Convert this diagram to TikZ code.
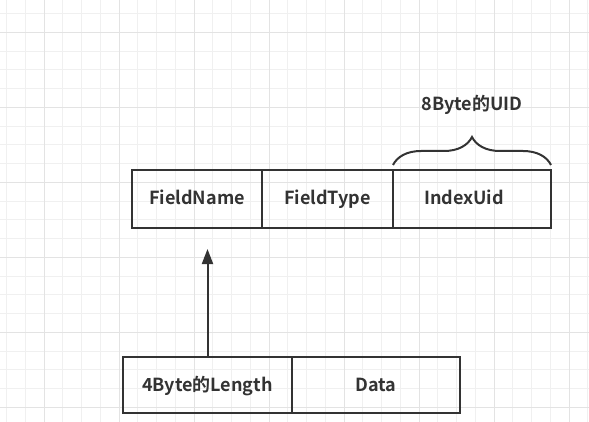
\documentclass[tikz,border=0pt]{standalone}
\usepackage{fontspec}
\setmainfont{Noto Sans CJK SC}[BoldFont={Noto Sans CJK SC Bold}]
\usepackage{tikz}
\usetikzlibrary{positioning, arrows.meta, decorations.pathreplacing}
\definecolor{inkgray}{HTML}{333333}
\tikzstyle{cell} = [rectangle, draw=inkgray, line width=2pt, minimum height=58pt, outer sep=0pt, inner sep=0pt, text height=15pt, text depth=3pt, text=inkgray, font=\fontsize{18}{21}\selectfont\bfseries]
\tikzstyle{caption} = [text=inkgray, font=\fontsize{18}{21}\selectfont\bfseries]
\tikzstyle{gridminor} = [line width=1pt, draw=black!6]
\tikzstyle{gridmajor} = [line width=1pt, draw=black!11]
\tikzstyle{bracket} = [draw=inkgray, line width=2pt, decorate, decoration={brace, amplitude=28pt}]
\tikzstyle{arrow} = [draw=inkgray, line width=2pt, -{Triangle[length=15pt, width=11pt]}]
\begin{document}
\begin{tikzpicture}[x=1pt, y=-1pt]

\useasboundingbox (0,0) rectangle (589,422);
\fill[white] (0,0) rectangle (589,422);

% background grid
\foreach \i in {0,...,31}
  \draw[gridminor] (6.7+18.75*\i,0) -- (6.7+18.75*\i,422);
\foreach \j in {0,...,21}
  \draw[gridminor] (0,13.6+18.75*\j) -- (589,13.6+18.75*\j);
\foreach \i in {1,...,8}
  \draw[gridmajor] (-30.7+75*\i,0) -- (-30.7+75*\i,422);
\foreach \j in {1,...,6}
  \draw[gridmajor] (0,-42.7+75*\j) -- (589,-42.7+75*\j);

% header fields
\node (fname) [cell, minimum width=130pt] at (197,199) {FieldName};
\node (ftype) [cell, minimum width=131pt, right=0pt of fname] {FieldType};
\node (fuid) [cell, minimum width=158pt, right=0pt of ftype] {IndexUid\hspace*{16pt}};

\draw[bracket] ([yshift=5pt]fuid.north west) -- ([yshift=5pt]fuid.north east);
\node (uidtxt) [caption] at (472,105) {8Byte的UID};

% length + data
\node (len) [cell, minimum width=169pt, minimum height=56pt] at (207.5,385) {4Byte的Length};
\node (data) [cell, minimum width=168pt, minimum height=56pt, right=0pt of len] {Data};

\coordinate (tip) at (207.5,249);
\draw[arrow] (len.north) -- (tip);

\end{tikzpicture}
\end{document}
